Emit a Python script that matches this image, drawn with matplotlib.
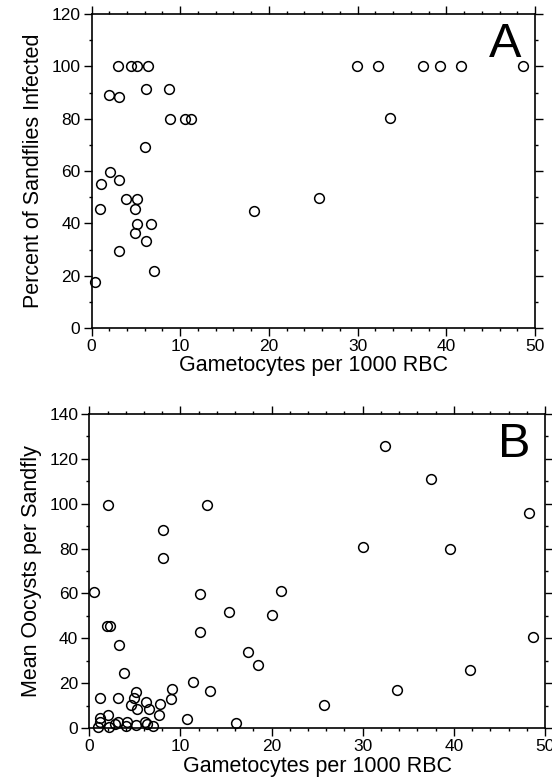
import matplotlib
matplotlib.use('Agg')
import matplotlib.pyplot as plt
from matplotlib.ticker import MultipleLocator

plt.rcParams['font.family'] = ['Liberation Sans', 'DejaVu Sans']

# Panel A: percent of sandflies infected
a_x = [0.4, 1.0, 1.1, 2.05, 2.0, 3.0, 3.1, 3.1, 3.1, 3.85, 4.5, 4.9, 4.9, 5.1, 5.1, 5.1,
       6.0, 6.1, 6.15, 6.4, 6.7, 7.1, 8.75, 8.9, 10.55, 11.25, 18.3, 25.6, 29.9, 32.25,
       33.7, 37.35, 39.3, 41.7, 48.6]
a_y = [17.6, 45.3, 55.2, 59.7, 89.2, 100, 88.2, 56.6, 29.5, 49.3, 100, 45.3, 36.3, 100, 49.3, 39.7,
       69.3, 91.3, 33.1, 100, 39.7, 21.8, 91.3, 79.8, 80, 80, 44.6, 49.8, 100, 100,
       80.1, 100, 100, 100, 100]

# Panel B: mean oocysts per sandfly
b_x = [0.55, 1.0, 1.2, 1.2, 1.2, 2.0, 1.97, 2.23, 2.1, 2.2, 2.8, 3.25, 3.2, 3.2, 3.85, 4.0,
       4.15, 4.6, 4.95, 5.1, 5.1, 5.2, 6.1, 6.2, 6.3, 6.5, 7.0, 7.7, 7.8, 8.05, 8.05, 8.95,
       9.1, 10.7, 11.35, 12.15, 12.15, 12.95, 13.2, 15.35, 16.1, 17.4, 18.55, 20.0, 21.0,
       25.7, 30.0, 32.4, 33.8, 37.5, 39.6, 41.8, 48.25, 48.7]
b_y = [60.6, 0.4, 13.2, 4.5, 2.9, 99.2, 45.6, 45.6, 6.0, 0.4, 1.8, 36.8, 13.3, 2.7, 24.6, 1.0,
       2.7, 10.4, 13.5, 15.9, 1.5, 8.6, 2.9, 11.6, 1.9, 8.6, 1.0, 6.0, 10.5, 88.5, 75.6, 12.9,
       17.6, 4.0, 20.6, 59.6, 42.8, 99.2, 16.6, 51.9, 2.4, 33.9, 27.9, 50.2, 60.9,
       10.4, 80.8, 125.9, 16.9, 111, 79.8, 26, 95.9, 40.6]

fig = plt.figure(figsize=(5.52, 7.83), dpi=100)
ax1 = fig.add_axes([0.1658, 0.5811, 0.8034, 0.4010])
ax2 = fig.add_axes([0.1618, 0.0702, 0.8255, 0.4011])


def style(ax, ymax, ymaj, ymin, letter, ylabel):
    ax.set_xlim(0, 50)
    ax.set_ylim(0, ymax)
    ax.xaxis.set_major_locator(MultipleLocator(10))
    ax.xaxis.set_minor_locator(MultipleLocator(2))
    ax.yaxis.set_major_locator(MultipleLocator(ymaj))
    ax.yaxis.set_minor_locator(MultipleLocator(ymin))
    ax.tick_params(which='both', direction='out', top=True, right=True,
                   width=1.0, labelsize=12.5, colors='black')
    ax.tick_params(which='major', length=5.5, pad=2.5)
    ax.tick_params(which='minor', length=2.5)
    for s in ax.spines.values():
        s.set_linewidth(1.2)
    ax.set_xlabel('Gametocytes per 1000 RBC', fontsize=15.5, labelpad=1)
    ax.set_ylabel(ylabel, fontsize=15.5, labelpad=5)
    ax.text(0.968, 0.975, letter, transform=ax.transAxes, ha='right', va='top',
            fontsize=35)


ax1.plot(a_x, a_y, 'o', mfc='none', mec='black', ms=7, mew=1.1, clip_on=False)
style(ax1, 120, 20, 10, 'A', 'Percent of Sandflies Infected')

ax2.plot(b_x, b_y, 'o', mfc='none', mec='black', ms=7, mew=1.1, clip_on=False)
style(ax2, 140, 20, 10, 'B', 'Mean Oocysts per Sandfly')

plt.savefig('out.png', dpi=100)
